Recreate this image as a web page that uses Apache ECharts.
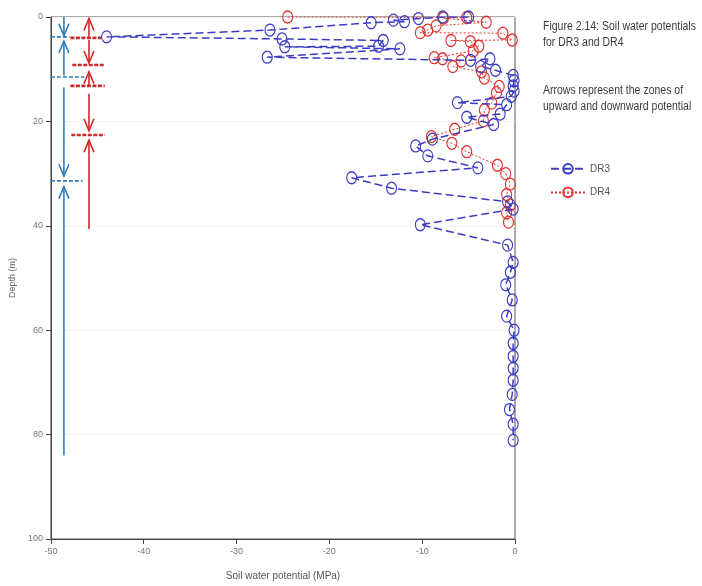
<!DOCTYPE html>
<html>
<head>
<meta charset="utf-8">
<script src="https://cdn.jsdelivr.net/npm/echarts@6/dist/echarts.min.js"></script>
<style>
  html, body { margin: 0; padding: 0; background: #ffffff; }
  #chart { width: 702px; height: 586px; }
</style>
</head>
<body>
<div id="chart"></div>
<script>
// Soil water potential profiles, boreholes DR3 and DR4
const xTicks = [-50, -40, -30, -20, -10, 0];
const depthTicks = [0, 20, 40, 60, 80, 100];

// DR3: depth (m) and soil water potential (MPa)
const dr3Depth = [0.0, 0.0, 0.3, 0.6, 0.9, 1.1, 2.5, 3.8, 4.2, 4.5, 5.6, 5.7, 6.1, 7.7,
  8.3, 8.0, 9.5, 10.2, 11.2, 12.2, 13.2, 14.2, 15.2, 16.4, 16.8, 18.6, 19.2, 20.6,
  23.4, 24.7, 26.6, 28.9, 30.8, 32.8, 35.4, 36.8, 39.8, 43.7, 47.0, 48.9, 51.3,
  54.2, 57.3, 60.0, 62.5, 65.0, 67.3, 69.6, 72.3, 75.2, 78.0, 81.1];
const dr3Potential = [-5.0, -7.8, -10.4, -13.1, -11.9, -15.5, -26.4, -44.0, -25.1, -14.2, -14.7, -24.8, -12.4, -26.7,
  -4.8, -2.7, -3.7, -2.1, -0.2, -0.1, -0.2, -0.1, -0.4, -6.2, -0.9, -1.6, -5.2, -2.3,
  -8.9, -10.7, -9.4, -4.0, -17.6, -13.3, -0.8, -0.2, -10.2, -0.8, -0.2, -0.5, -1.0,
  -0.3, -0.9, -0.1, -0.2, -0.2, -0.2, -0.2, -0.3, -0.6, -0.2, -0.2];

// DR4: depth (m) and soil water potential (MPa)
const dr4Depth = [0.0, 0.1, 0.2, 1.0, 1.7, 2.5, 3.0, 3.1, 4.4, 4.5, 4.7, 5.6, 6.5,
  7.8, 8.0, 8.4, 9.5, 10.5, 11.7, 13.3, 14.5, 16.5, 17.8, 19.9, 21.5, 22.9, 24.2,
  25.8, 28.4, 30.0, 32.0, 34.0, 36.0, 37.5, 39.3];
const dr4Potential = [-24.5, -5.2, -7.7, -3.1, -8.5, -9.4, -10.2, -1.3, -0.3, -6.9, -4.8, -3.9, -4.5,
  -8.7, -7.8, -5.8, -6.7, -3.6, -3.3, -1.7, -2.0, -2.5, -3.3, -3.4, -6.5, -9.0, -6.8,
  -5.2, -1.9, -1.0, -0.5, -0.9, -0.5, -0.9, -0.7];

// Zone arrows: [potential position, start depth, tip depth]
const blueArrows = [[-48.6, 0.0, 3.6], [-48.6, 11.2, 4.6], [-48.6, 13.5, 30.5], [-48.6, 84.0, 32.5]];
const redArrows = [[-45.9, 3.8, 0.3], [-45.9, 4.4, 8.8], [-45.9, 13.2, 10.5], [-45.9, 14.7, 21.8], [-45.9, 40.6, 23.6]];
// Zone boundaries: [from potential, to potential, depth]
const blueBounds = [[-50, -48.0, 3.8], [-50, -46.4, 11.5], [-50, -46.6, 31.4]];
const redBounds = [[-47.9, -44.6, 4.0], [-47.7, -44.2, 9.2], [-47.9, -44.2, 13.2], [-47.8, -44.2, 22.6]];

const captionLines = ['Figure 2.14: Soil water potentials', 'for DR3 and DR4'];
const noteLines = ['Arrows represent the zones of', 'upward and downward potential'];

const FONT = '"Liberation Sans", Arial, sans-serif';
const BLUE = '#3b3bc4';
const RED = '#e0322e';
const ARROW_BLUE = '#2f7dbb';
const ARROW_RED = '#cf2a2a';
const NONE = 'rgba(0,0,0,0)';

function pairs(xs, ys) { return xs.map((x, i) => [x, ys[i]]); }

function arrowRenderer(color) {
  return function (params, api) {
    const x = api.value(0);
    const p0 = api.coord([x, api.value(1)]);
    const p1 = api.coord([x, api.value(2)]);
    const dir = p1[1] > p0[1] ? 1 : -1;
    const w = 5, h = 12;
    return {
      type: 'group',
      children: [
        { type: 'line', shape: { x1: p0[0], y1: p0[1], x2: p1[0], y2: p1[1] },
          style: { stroke: color, lineWidth: 1.6 } },
        { type: 'polyline',
          shape: { points: [[p1[0] - w, p1[1] - dir * h], [p1[0], p1[1]], [p1[0] + w, p1[1] - dir * h]] },
          style: { stroke: color, fill: null, lineWidth: 1.6 } }
      ]
    };
  };
}

function boundRenderer(color, width, dash) {
  return function (params, api) {
    const a = api.coord([api.value(0), api.value(2)]);
    const b = api.coord([api.value(1), api.value(2)]);
    return { type: 'line', shape: { x1: a[0], y1: a[1], x2: b[0], y2: b[1] },
      style: { stroke: color, lineWidth: width, lineDash: dash } };
  };
}

// Condensed caption text block
function textBlock(lines, x, y) {
  return lines.map((t, i) => ({
    type: 'text', x: x, y: y + i * 16, scaleX: 0.84,
    style: { text: t, font: '12.5px ' + FONT, fill: '#3c3c3c' }
  }));
}

const chart = echarts.init(document.getElementById('chart'), null, { renderer: 'canvas' });
chart.setOption({
  animation: false,
  backgroundColor: '#ffffff',
  graphic: textBlock(captionLines, 543, 20).concat(textBlock(noteLines, 543, 84)),
  legend: {
    data: ['DR3', 'DR4'], orient: 'vertical', left: 545, top: 158, itemWidth: 34, itemHeight: 12, itemGap: 12,
    textStyle: { fontFamily: FONT, fontSize: 10, color: '#555' }
  },
  grid: { left: 48, right: 187, top: 17, bottom: 47, show: true, borderColor: '#555', borderWidth: 1 },
  xAxis: {
    type: 'value', min: xTicks[0], max: xTicks[xTicks.length - 1], interval: 10,
    name: 'Soil water potential (MPa)', nameLocation: 'middle', nameGap: 32,
    nameTextStyle: { fontFamily: FONT, fontSize: 10, color: '#555' },
    axisLine: { onZero: false, lineStyle: { color: '#444', width: 1 } },
    axisTick: { show: true, length: 5, lineStyle: { color: '#444' } },
    axisLabel: { fontFamily: FONT, fontSize: 9, color: '#777', margin: 8 },
    splitLine: { show: false }
  },
  yAxis: {
    type: 'value', inverse: true, min: depthTicks[0], max: depthTicks[depthTicks.length - 1], interval: 20,
    name: 'Depth (m)', nameLocation: 'middle', nameGap: 33, nameRotate: 90,
    nameTextStyle: { fontFamily: FONT, fontSize: 9, color: '#666' },
    axisLine: { onZero: false, lineStyle: { color: '#444', width: 1 } },
    axisTick: { show: true, length: 5, lineStyle: { color: '#444' } },
    axisLabel: { fontFamily: FONT, fontSize: 9, color: '#777', margin: 8 },
    splitLine: { show: true, lineStyle: { color: '#f5f5f5', width: 1 } }
  },
  series: [
    {
      name: 'DR4', type: 'line', data: pairs(dr4Potential, dr4Depth),
      symbol: 'circle', symbolSize: [10, 12],
      lineStyle: { color: RED, width: 1, type: [2, 2] },
      itemStyle: { color: NONE, borderColor: RED, borderWidth: 1.2 }, z: 3
    },
    {
      name: 'DR3', type: 'line', data: pairs(dr3Potential, dr3Depth),
      symbol: 'circle', symbolSize: [10, 12],
      lineStyle: { color: BLUE, width: 1.5, type: [8, 4] },
      itemStyle: { color: NONE, borderColor: BLUE, borderWidth: 1.2 }, z: 4
    },
    { type: 'custom', renderItem: boundRenderer(ARROW_BLUE, 1.6, [4, 2]), data: blueBounds,
      encode: { x: [0, 1], y: 2 }, silent: true, z: 5 },
    { type: 'custom', renderItem: boundRenderer(ARROW_RED, 2.6, [4, 1.5]), data: redBounds,
      encode: { x: [0, 1], y: 2 }, silent: true, z: 5 },
    { type: 'custom', renderItem: arrowRenderer(ARROW_BLUE), data: blueArrows,
      encode: { x: 0, y: [1, 2] }, silent: true, z: 5 },
    { type: 'custom', renderItem: arrowRenderer(ARROW_RED), data: redArrows,
      encode: { x: 0, y: [1, 2] }, silent: true, z: 5 }
  ]
});
</script>
</body>
</html>
